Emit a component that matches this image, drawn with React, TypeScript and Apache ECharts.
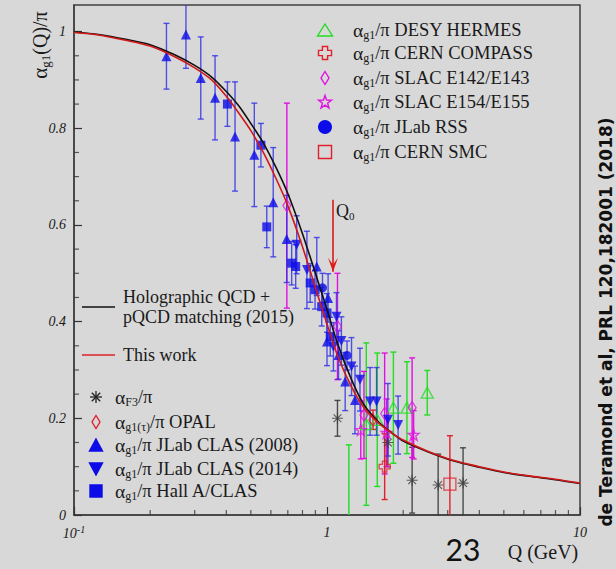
import React, { useEffect, useRef } from 'react';
import * as echarts from 'echarts';

const SERIF = '"Liberation Serif", "Times New Roman", Times, serif';
const SANS = '"DejaVu Sans", Verdana, sans-serif';
const BG = '#d8d8d8';
const TEXT = '#1a1a1a';
const AXIS = '#404040';
const BLUE = '#0c0ce8';
const BLUE_BAR = 'rgba(45,45,230,0.8)';
const GREEN = '#22dd22';
const MAGENTA = '#e010e0';
const RED = '#e0202a';
const GRAY = '#3a3a3a';

// ---- curves ----
const curveQ = [0.1, 0.125, 0.16, 0.2, 0.25, 0.3, 0.35, 0.4, 0.45, 0.5, 0.56, 0.63, 0.7, 0.8, 0.9, 1.0, 1.1, 1.25, 1.4, 1.6, 1.8, 2.0, 2.5, 3.2, 4.0, 5.0, 6.3, 8.0, 10];
const holographicCurve = [0.999, 0.994, 0.984, 0.973, 0.952, 0.93, 0.906, 0.876, 0.845, 0.81, 0.77, 0.718, 0.665, 0.582, 0.5, 0.425, 0.355, 0.28, 0.228, 0.192, 0.17, 0.153, 0.131, 0.111, 0.099, 0.088, 0.08, 0.073, 0.065];
const thisWorkCurve = [0.998, 0.993, 0.982, 0.97, 0.948, 0.925, 0.9, 0.866, 0.83, 0.795, 0.75, 0.695, 0.64, 0.555, 0.47, 0.395, 0.33, 0.265, 0.222, 0.19, 0.17, 0.155, 0.132, 0.112, 0.1, 0.089, 0.081, 0.074, 0.066];

// ---- data sets: [Q (GeV), alpha/pi, error] ----
const clas2008 = [
  [0.232, 0.949, 0.068], [0.277, 0.994, 0.07], [0.317, 0.904, 0.085], [0.361, 0.863, 0.087],
  [0.433, 0.783, 0.113], [0.516, 0.745, 0.107], [0.613, 0.647, 0.113], [0.693, 0.571, 0.09],
  [0.911, 0.514, 0.06], [1.01, 0.449, 0.05], [1.0, 0.359, 0.05], [1.11, 0.331, 0.05],
  [1.18, 0.276, 0.06], [1.29, 0.238, 0.07],
];
const clas2014 = [
  [0.759, 0.559, 0.06], [0.833, 0.507, 0.08], [1.09, 0.41, 0.05], [1.06, 0.348, 0.05],
  [1.14, 0.36, 0.05], [1.25, 0.307, 0.06], [1.35, 0.28, 0.065], [1.48, 0.235, 0.07],
  [1.57, 0.235, 0.07], [1.74, 0.197, 0.075], [1.91, 0.186, 0.06],
];
const hallA = [
  [0.404, 0.85, 0.046], [0.548, 0.765, 0.045], [0.578, 0.596, 0.043], [0.725, 0.521, 0.045],
  [0.752, 0.514, 0.045], [0.858, 0.48, 0.04], [0.897, 0.466, 0.04], [0.953, 0.431, 0.04],
  [1.0, 0.418, 0.04], [1.03, 0.369, 0.04],
];
const jlabRss = [[0.96, 0.47, 0.03], [1.2, 0.33, 0.03]];
const hermes = [
  [1.22, -0.03, 0.175], [1.43, 0.188, 0.168], [1.58, 0.197, 0.138], [1.83, 0.222, 0.115],
  [2.07, 0.222, 0.095], [2.49, 0.253, 0.046],
];
const e142 = [[0.694, 0.64, 0.212], [1.1, 0.39, 0.11], [1.4, 0.207, 0.09], [1.69, 0.21, 0.125], [2.17, 0.222, 0.103]];
const e154 = [[1.36, 0.176, 0.06], [1.72, 0.17, 0.07], [2.2, 0.166, 0.05]];
const compass = [[1.69, 0.1, 0.068]];
const opal = [[1.52, 0.197, 0.02]];
const smc = [[3.06, 0.064, 0.1]];
const f3 = [[1.1, 0.2, 0.037], [1.74, 0.15, 0.05], [2.17, 0.072, 0.068], [2.75, 0.062, 0.064], [3.45, 0.066, 0.073]];

const q0Arrow = [[1.056, 0.652], [1.056, 0.503]];

const xMinorTicks = [0.2, 0.3, 0.4, 0.5, 0.6, 0.7, 0.8, 0.9, 2, 3, 4, 5, 6, 7, 8, 9];
const yMinorTicks = [0.05, 0.1, 0.15, 0.25, 0.3, 0.35, 0.45, 0.5, 0.55, 0.65, 0.7, 0.75, 0.85, 0.9, 0.95];

// ---- symbol outlines (unit box 0..10) ----
const TRI = [[5, 0], [10, 10], [0, 10]];
const TRI_DOWN = [[0, 0], [10, 0], [5, 10]];
const DIAMOND = [[5, 0], [10, 5], [5, 10], [0, 5]];
const PLUS = [[3, 0], [7, 0], [7, 3], [10, 3], [10, 7], [7, 7], [7, 10], [3, 10], [3, 7], [0, 7], [0, 3], [3, 3]];
const STAR = [[5, 0], [6.2, 3.5], [10, 3.6], [7, 5.9], [8.1, 9.6], [5, 7.4], [1.9, 9.6], [3, 5.9], [0, 3.6], [3.8, 3.5]];
const RECT = [[0, 0], [10, 0], [10, 10], [0, 10]];
const ASTER = [[5, 0, 5, 10], [0, 5, 10, 5], [1.5, 1.5, 8.5, 8.5], [8.5, 1.5, 1.5, 8.5]];

const toPath = (pts: number[][]) => 'path://M' + pts.map((p) => p[0] + ',' + p[1]).join('L') + 'Z';
const ASTER_PATH = 'path://' + ASTER.map((l) => `M${l[0]},${l[1]}L${l[2]},${l[3]}`).join('');

const OPEN = 'rgba(0,0,0,0)';

const rich = {
  a: { fontFamily: SERIF, fontSize: 19.5, lineHeight: 22, fill: TEXT },
  s: { fontFamily: SERIF, fontSize: 12, lineHeight: 10, verticalAlign: 'bottom', fill: TEXT },
  t: { fontFamily: SERIF, fontSize: 18.5, lineHeight: 22, fill: TEXT },
};
const titleRich = {
  a: { fontFamily: SERIF, fontSize: 21, lineHeight: 24, fill: TEXT },
  s: { fontFamily: SERIF, fontSize: 13, lineHeight: 11, verticalAlign: 'bottom', fill: TEXT },
  t: { fontFamily: SERIF, fontSize: 20, lineHeight: 24, fill: TEXT },
};

function polyIcon(pts: number[][], cx: number, cy: number, w: number, h: number, fill: string, stroke: string) {
  return {
    type: 'polygon',
    shape: { points: pts.map((p) => [cx - w / 2 + (p[0] * w) / 10, cy - h / 2 + (p[1] * h) / 10]) },
    style: { fill, stroke, lineWidth: 1.4 },
  };
}
function asterIcon(cx: number, cy: number, s: number, stroke: string) {
  return ASTER.map((l) => ({
    type: 'line',
    shape: { x1: cx - s / 2 + (l[0] * s) / 10, y1: cy - s / 2 + (l[1] * s) / 10, x2: cx - s / 2 + (l[2] * s) / 10, y2: cy - s / 2 + (l[3] * s) / 10 },
    style: { stroke, lineWidth: 1.3 },
  }));
}
function legendText(x: number, y: number, sub: string, rest: string) {
  return {
    type: 'text',
    x,
    y,
    style: { text: `{a|α}{s|${sub}}{t|${rest}}`, rich, align: 'left', verticalAlign: 'middle' },
  };
}

function errorSeries(name: string, data: number[][], color: string) {
  return {
    type: 'custom',
    name: name + '-err',
    data,
    clip: true,
    silent: true,
    z: 2,
    encode: { x: 0, y: 1 },
    renderItem: (_p: any, api: any) => {
      const x = api.value(0);
      const y = api.value(1);
      const e = api.value(2);
      const top = api.coord([x, y + e]);
      const bot = api.coord([x, y - e]);
      const st = { stroke: color, lineWidth: 1.4 };
      return {
        type: 'group',
        children: [
          { type: 'line', shape: { x1: top[0], y1: top[1], x2: bot[0], y2: bot[1] }, style: st },
          { type: 'line', shape: { x1: top[0] - 3, y1: top[1], x2: top[0] + 3, y2: top[1] }, style: st },
          { type: 'line', shape: { x1: bot[0] - 3, y1: bot[1], x2: bot[0] + 3, y2: bot[1] }, style: st },
        ],
      };
    },
  };
}

function pointSeries(name: string, data: number[][], symbol: string, size: any, itemStyle: any, rotate = 0) {
  return {
    type: 'scatter',
    name,
    data: data.map((d) => [d[0], d[1]]),
    symbol,
    symbolSize: size,
    symbolRotate: rotate,
    itemStyle,
    clip: true,
    z: 3,
  };
}

function tickSeries(name: string, data: number[][], horizontal: boolean) {
  return {
    type: 'scatter',
    name,
    data,
    symbol: 'rect',
    symbolSize: horizontal ? [5, 1.2] : [1.2, 5],
    symbolOffset: horizontal ? [2.5, 0] : [0, -2.5],
    itemStyle: { color: '#333' },
    clip: false,
    silent: true,
    z: 6,
  };
}

export default function App() {
  const ref = useRef<HTMLDivElement>(null);

  useEffect(() => {
    if (!ref.current) return;
    const chart = echarts.init(ref.current, null, { renderer: 'svg' });

    const TR = 325;
    const TRT = 353;
    const LL = 96;
    const LLT = 115;

    const graphic: any[] = [
      // y title
      {
        type: 'text', x: 40, y: 45, rotation: Math.PI / 2,
        style: { text: '{a|α}{s|g1}{t|(Q)/π}', rich: titleRich, align: 'center', verticalAlign: 'middle' },
      },
      // right side reference
      {
        type: 'text', x: 606, y: 322, rotation: Math.PI / 2,
        style: { text: 'de Teramond et al, PRL 120,182001 (2018)', font: `bold 17px ${SANS}`, fill: '#111', align: 'center', verticalAlign: 'middle' },
      },
      { type: 'text', x: 463, y: 549, style: { text: '23', font: `30px Lato, sans-serif`, fill: '#111', align: 'center', verticalAlign: 'middle' } },
      { type: 'text', x: 543, y: 552, style: { text: 'Q (GeV)', font: `20px ${SERIF}`, fill: TEXT, align: 'center', verticalAlign: 'middle' } },
      // Q0 label
      {
        type: 'text', x: 336, y: 211,
        style: { text: '{q|Q}{z|0}', rich: { q: { fontFamily: SERIF, fontSize: 18, lineHeight: 20, fill: TEXT }, z: { fontFamily: SERIF, fontSize: 11, lineHeight: 9, verticalAlign: 'bottom', fill: TEXT } }, align: 'left', verticalAlign: 'middle' },
      },
      // top-right legend
      polyIcon(TRI, TR, 30, 15, 12, OPEN, GREEN),
      legendText(TRT, 30, 'g1', '/π DESY HERMES'),
      polyIcon(PLUS, TR, 53, 13, 13, OPEN, RED),
      legendText(TRT, 53, 'g1', '/π CERN COMPASS'),
      polyIcon(DIAMOND, TR, 78, 8, 13, OPEN, MAGENTA),
      legendText(TRT, 78, 'g1', '/π SLAC E142/E143'),
      polyIcon(STAR, TR, 102, 13, 13, OPEN, MAGENTA),
      legendText(TRT, 102, 'g1', '/π SLAC E154/E155'),
      { type: 'circle', shape: { cx: TR, cy: 127, r: 7 }, style: { fill: BLUE } },
      legendText(TRT, 127, 'g1', '/π JLab RSS'),
      polyIcon(RECT, TR, 152, 13, 13, OPEN, RED),
      legendText(TRT, 152, 'g1', '/π CERN SMC'),
      // curve legend
      { type: 'line', shape: { x1: 82, y1: 307, x2: 115, y2: 307 }, style: { stroke: '#111', lineWidth: 1.5 } },
      {
        type: 'text', x: 123, y: 307,
        style: { text: 'Holographic QCD +\npQCD matching (2015)', font: `18px ${SERIF}`, lineHeight: 20, fill: TEXT, align: 'left', verticalAlign: 'middle' },
      },
      { type: 'line', shape: { x1: 82, y1: 355, x2: 115, y2: 355 }, style: { stroke: RED, lineWidth: 1.5 } },
      { type: 'text', x: 123, y: 355, style: { text: 'This work', font: `18px ${SERIF}`, fill: TEXT, align: 'left', verticalAlign: 'middle' } },
      // lower-left legend
      ...asterIcon(LL, 397, 12, '#222'),
      legendText(LLT, 397, 'F3', '/π'),
      polyIcon(DIAMOND, LL, 422, 8, 13, OPEN, RED),
      legendText(LLT, 422, 'g1(τ)', '/π OPAL'),
      polyIcon(TRI, LL, 445, 13, 12, BLUE, BLUE),
      legendText(LLT, 445, 'g1', '/π JLab CLAS (2008)'),
      polyIcon(TRI_DOWN, LL, 469, 13, 12, BLUE, BLUE),
      legendText(LLT, 469, 'g1', '/π JLab CLAS (2014)'),
      polyIcon(RECT, LL, 491, 12, 12, BLUE, BLUE),
      legendText(LLT, 491, 'g1', '/π Hall A/CLAS'),
    ];

    const option: any = {
      animation: false,
      backgroundColor: BG,
      grid: { left: 74, right: 36, top: 5, bottom: 54, show: true, borderColor: AXIS, borderWidth: 1.5, backgroundColor: 'transparent' },
      xAxis: {
        type: 'log',
        logBase: 10,
        min: 0.1,
        max: 10,
        splitLine: { show: false },
        axisLine: { show: true, lineStyle: { color: AXIS, width: 1.5 } },
        axisTick: { show: true, inside: true, length: 8, lineStyle: { color: '#333', width: 1.2 } },
        axisLabel: {
          margin: 9,
          formatter: (v: number) => (v < 0.5 ? '{m|10}{p|-1}' : v < 5 ? '{i|1}' : '{i|10}'),
          rich: {
            m: { fontFamily: SERIF, fontStyle: 'italic', fontSize: 14, lineHeight: 16, verticalAlign: 'bottom', color: TEXT },
            p: { fontFamily: SERIF, fontStyle: 'italic', fontSize: 10, lineHeight: 9, verticalAlign: 'top', color: TEXT },
            i: { fontFamily: SERIF, fontStyle: 'italic', fontSize: 14, lineHeight: 16, color: TEXT },
          },
        },
      },
      yAxis: {
        type: 'value',
        min: 0,
        max: 1.055,
        interval: 0.2,
        splitLine: { show: false },
        axisLine: { show: true, lineStyle: { color: AXIS, width: 1.5 } },
        axisTick: { show: true, inside: true, length: 8, lineStyle: { color: '#333', width: 1.2 } },
        axisLabel: {
          margin: 8,
          showMaxLabel: false,
          fontFamily: SERIF,
          fontStyle: 'italic',
          fontSize: 14,
          color: TEXT,
          formatter: (v: number) => {
            const r = Math.round(v * 10) / 10;
            return Number.isInteger(r) ? String(r) : r.toFixed(1);
          },
        },
      },
      graphic,
      series: [
        tickSeries('xMinor', xMinorTicks.map((v) => [v, 0]), false),
        tickSeries('yMinor', yMinorTicks.map((v) => [0.1, v]), true),
        errorSeries('f3', f3, 'rgba(50,50,50,0.85)'),
        errorSeries('hermes', hermes, GREEN),
        errorSeries('e142', e142, MAGENTA),
        errorSeries('e154', e154, MAGENTA),
        errorSeries('clas2008', clas2008, BLUE_BAR),
        errorSeries('clas2014', clas2014, BLUE_BAR),
        errorSeries('hallA', hallA, BLUE_BAR),
        errorSeries('rss', jlabRss, BLUE_BAR),
        errorSeries('compass', compass, RED),
        errorSeries('opal', opal, RED),
        errorSeries('smc', smc, RED),
        pointSeries('α_F3/π', f3, ASTER_PATH, 11, { color: OPEN, borderColor: GRAY, borderWidth: 1.1 }),
        pointSeries('DESY HERMES', hermes, toPath(TRI), [12, 11], { color: OPEN, borderColor: GREEN, borderWidth: 1.3 }),
        pointSeries('SLAC E142/E143', e142, toPath(DIAMOND), [8, 12], { color: OPEN, borderColor: MAGENTA, borderWidth: 1.3 }),
        pointSeries('SLAC E154/E155', e154, toPath(STAR), 11, { color: OPEN, borderColor: MAGENTA, borderWidth: 1.3 }),
        pointSeries('JLab CLAS (2008)', clas2008, 'triangle', 10, { color: BLUE }),
        pointSeries('JLab CLAS (2014)', clas2014, 'triangle', 10, { color: BLUE }, 180),
        pointSeries('Hall A/CLAS', hallA, 'rect', 9, { color: BLUE }),
        pointSeries('JLab RSS', jlabRss, 'circle', 9, { color: BLUE }),
        pointSeries('CERN COMPASS', compass, toPath(PLUS), 11, { color: OPEN, borderColor: RED, borderWidth: 1.3 }),
        pointSeries('OPAL', opal, toPath(DIAMOND), [8, 12], { color: OPEN, borderColor: RED, borderWidth: 1.3 }),
        pointSeries('CERN SMC', smc, toPath(RECT), 12, { color: OPEN, borderColor: RED, borderWidth: 1.3 }),
        {
          type: 'line',
          name: 'Holographic QCD + pQCD matching (2015)',
          data: curveQ.map((q, i) => [q, holographicCurve[i]]),
          smooth: 0.25,
          showSymbol: false,
          symbol: 'none',
          lineStyle: { color: '#111', width: 1.6 },
          z: 4,
          silent: true,
        },
        {
          type: 'line',
          name: 'This work',
          data: curveQ.map((q, i) => [q, thisWorkCurve[i]]),
          smooth: 0.25,
          showSymbol: false,
          symbol: 'none',
          lineStyle: { color: '#d01818', width: 1.6 },
          z: 5,
          silent: true,
        },
        {
          type: 'line',
          name: 'Q0',
          data: [
            { value: q0Arrow[0], symbol: 'none' },
            { value: q0Arrow[1], symbol: 'path://M0,0L5,10L10,0L5,5Z', symbolSize: [10, 14], symbolOffset: [0, -7] },
          ],
          showAllSymbol: true,
          lineStyle: { color: '#e01818', width: 1.6 },
          itemStyle: { color: '#e01818' },
          z: 6,
          silent: true,
        },
      ],
    };

    chart.setOption(option);
    return () => chart.dispose();
  }, []);

  return (
    <div
      ref={ref}
      style={{ position: 'fixed', left: 0, top: 0, width: 616, height: 569, background: BG }}
    />
  );
}
